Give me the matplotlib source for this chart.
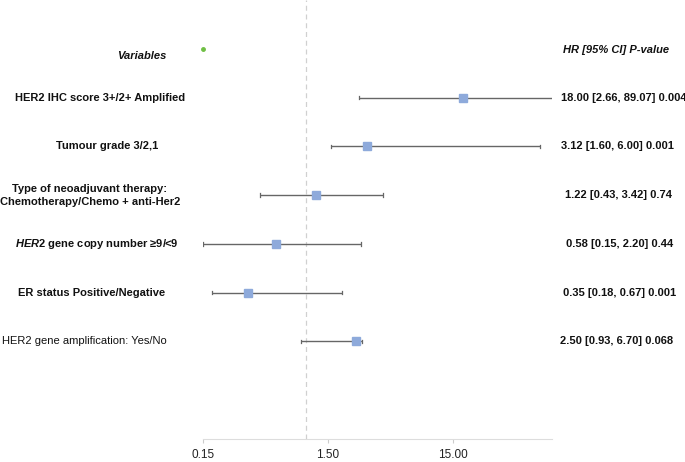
import matplotlib
matplotlib.use("Agg")
import matplotlib.pyplot as plt
import matplotlib.transforms as mtransforms
from matplotlib.ticker import NullLocator

plt.rcParams['font.family'] = ['Liberation Sans', 'DejaVu Sans']
plt.rcParams['mathtext.fontset'] = 'custom'
plt.rcParams['mathtext.it'] = 'Liberation Sans:italic:bold'
plt.rcParams['mathtext.rm'] = 'Liberation Sans:bold'

# rows, top to bottom
labels = [
    "HER2 IHC score 3+/2+ Amplified",
    "Tumour grade 3/2,1",
    "Type of neoadjuvant therapy:\nChemotherapy/Chemo + anti-Her2",
    "$\\mathit{HER2}$ gene copy number \u22659/<9",
    "ER status Positive/Negative",
    "HER2 gene amplification: Yes/No",
]
label_bold = [True, True, True, True, True, False]
hr = [17.9, 3.10, 1.21, 0.575, 0.345, 2.50]
ci_low = [2.64, 1.59, 0.43, 0.15, 0.179, 0.92]
ci_high = [150.0, 74.0, 4.1, 2.77, 1.95, 2.8]   # as drawn in the picture
hr_text = [
    "18.00 [2.66, 89.07] 0.004",
    "3.12 [1.60, 6.00] 0.001",
    "1.22 [0.43, 3.42] 0.74",
    "0.58 [0.15, 2.20] 0.44",
    "0.35 [0.18, 0.67] 0.001",
    "2.50 [0.93, 6.70] 0.068",
]
tick_vals = [0.15, 1.5, 15.0]
tick_labels = ["0.15", "1.50", "15.00"]

W, H = 685, 462
fig = plt.figure(figsize=(W / 100, H / 100), dpi=100)
ax = fig.add_axes([202.7 / W, 1 - 439 / H, (552.3 - 202.7) / W, 439 / H])
ax.set_xscale("log")
ax.set_xlim(0.15, 93)
ax.set_ylim(0, 9)

ys = [7 - i for i in range(len(labels))]

# reference line at HR = 1
ax.axvline(1.0, color="#d0d0d0", lw=0.9, ls=(0, (4, 3)), zorder=0)

for y, lo, hi, h in zip(ys, ci_low, ci_high, hr):
    ax.plot([lo, hi], [y, y], color="#666666", lw=1.0, solid_capstyle="butt", zorder=2)
    for cap in (lo, hi):
        ax.plot([cap, cap], [y - 0.035, y + 0.035], color="#666666", lw=0.9, zorder=2)
    ax.plot(h, y, marker="s", ms=5.4, color="#8eaadb", mec="#8eaadb", zorder=3)

# small marker on header row
ax.plot(0.15, 8, marker="o", ms=2.5, color="#6fbf44", mec="#6fbf44", clip_on=False, zorder=3)

ax.set_xticks(tick_vals)
ax.set_xticklabels(tick_labels)
ax.xaxis.set_minor_locator(NullLocator())
ax.set_yticks([])
ax.tick_params(axis="x", length=3, width=0.8, color="#cccccc", labelsize=8.5,
               labelcolor="#222222", pad=4)
for side in ("top", "right", "left"):
    ax.spines[side].set_visible(False)
ax.spines["bottom"].set_color("#dddddd")
ax.spines["bottom"].set_linewidth(0.8)

trans = mtransforms.blended_transform_factory(fig.transFigure, ax.transData)
label_cx = [100, 107, 90, 97, 92, 84]
for y, lab, b, cx in zip(ys, labels, label_bold, label_cx):
    ax.text(cx / W, y, lab, transform=trans, ha="center", va="center",
            fontsize=8, fontweight="bold" if b else "normal", color="#111111",
            linespacing=1.35, clip_on=False)

hr_cx = [623.5, 617.5, 618.5, 619.5, 620, 617]
for y, t, cx in zip(ys, hr_text, hr_cx):
    ax.text(cx / W, y, t, transform=trans, ha="center", va="center",
            fontsize=8, fontweight="bold", color="#111111", clip_on=False)

ax.text(142 / W, 7.85, "Variables", transform=trans, ha="center", va="center",
        fontsize=8, fontweight="bold", style="italic", color="#111111", clip_on=False)
ax.text(616 / W, 7.97, "HR [95% CI] P-value", transform=trans, ha="center", va="center",
        fontsize=8, fontweight="bold", style="italic", color="#111111", clip_on=False)

fig.savefig("out.png", dpi=100)
